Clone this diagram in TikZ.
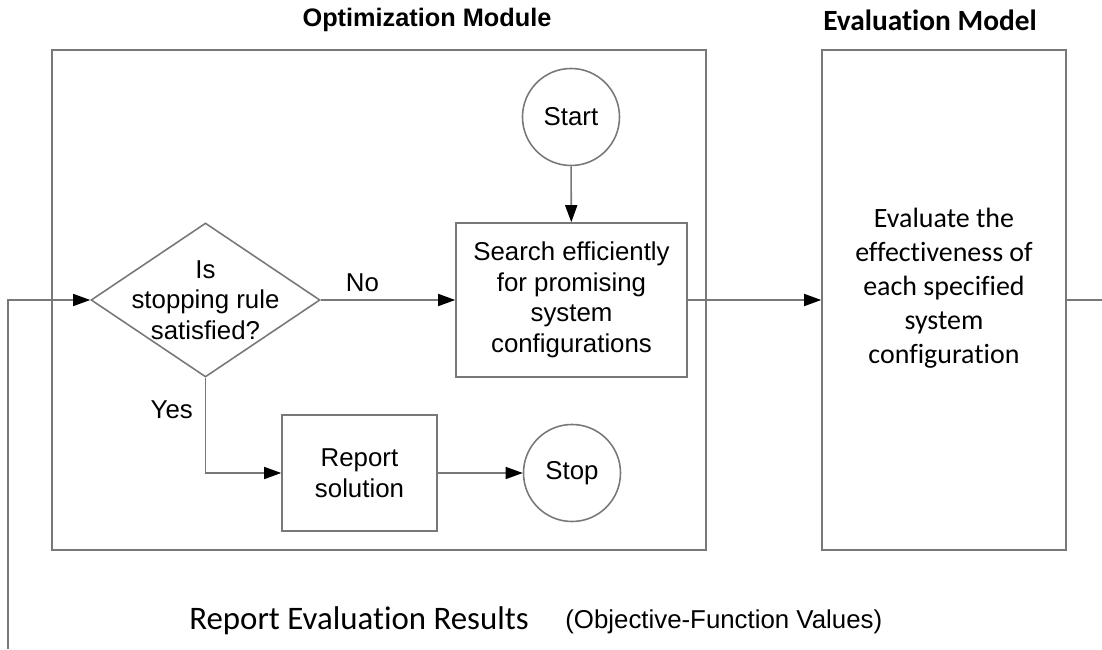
\documentclass[tikz,border=0pt]{standalone}
\usepackage{fontspec}
\setmainfont{Liberation Sans}
\newfontfamily\calibri[Ligatures=NoCommon]{Carlito}
\usepackage{tikz}
\usetikzlibrary{arrows.meta, positioning, shapes.geometric}
\definecolor{lineGray}{RGB}{120,120,120}

\begin{document}
\begin{tikzpicture}[
  font=\fontsize{14.7}{17.4}\selectfont,
  flowline/.style={draw=lineGray, line width=0.9pt},
  flowarrow/.style={flowline, -{Triangle[length=0.34cm, width=0.24cm, color=black]}},
  procbox/.style={flowline, rectangle, align=center, inner sep=0pt},
  termcircle/.style={flowline, circle, minimum size=1.94cm, inner sep=0pt},
  modulebox/.style={flowline, rectangle, minimum height=10cm, inner sep=0pt}
]
\useasboundingbox (0,0) rectangle (22.04,12.98);
\node[modulebox, minimum width=13.08cm] (optmod) at (7.58,6.98) {};
\node[modulebox, minimum width=4.88cm] (evalmod) at (18.88,6.98) {};
\node[font=\bfseries\fontsize{14.4}{17}\selectfont] (opttitle) at (8.54,12.58)
  {Optimization Module};
\node[font=\calibri\bfseries\fontsize{16.7}{20}\selectfont] (evaltitle) at (18.6,12.58)
  {Evaluation Model};
\node[termcircle] (start) at (11.42,10.64) {Start};
\node[procbox, minimum width=4.62cm, minimum height=3.08cm] (search) at (11.43,6.98)
  {Search efficiently\\for promising\\system\\configurations};
\node[flowline, diamond, minimum width=4.58cm, minimum height=3.08cm, inner sep=0pt]
  (stoprule) at (4.11,6.98) {};
\node[align=center] (stopruletext) at (stoprule.center)
  {Is\\stopping rule\\satisfied?};
\node[procbox, minimum width=3.1cm, minimum height=2.32cm] (report) at (7.19,3.52)
  {Report\\solution};
\node[termcircle] (stop) at (11.44,3.52) {Stop};
\node[align=center, font=\calibri\fontsize{15.9}{19.3}\selectfont] (evaltext) at (18.88,7.22)
  {Evaluate the\\effectiveness of\\each specified\\system\\configuration};
\coordinate (loopin) at (0.16,0);
\coordinate (rightout) at (22.04,6.98);
\draw[flowarrow] (start) -- (search);
\draw[flowarrow] (stoprule.east) -- node[pos=0.31, above=1pt] (nolabel) {No} (search.west);
\draw[flowarrow] (stoprule.south) |- node[pos=0.17, left=0.12cm] (yeslabel) {Yes} (report.west);
\draw[flowarrow] (report) -- (stop);
\draw[flowarrow] (search.east) -- (evalmod.west);
\draw[flowline] (evalmod.east) -- (rightout);
\draw[flowarrow] (loopin) |- (stoprule.west);
\node[anchor=base, font=\calibri\fontsize{18.7}{22}\selectfont] (results) at (7.18,0.4)
  {Report Evaluation Results};
\node[anchor=base west, inner sep=0pt] (objvalues) at (11.3,0.42)
  {(Objective-Function Values)};
\end{tikzpicture}
\end{document}
